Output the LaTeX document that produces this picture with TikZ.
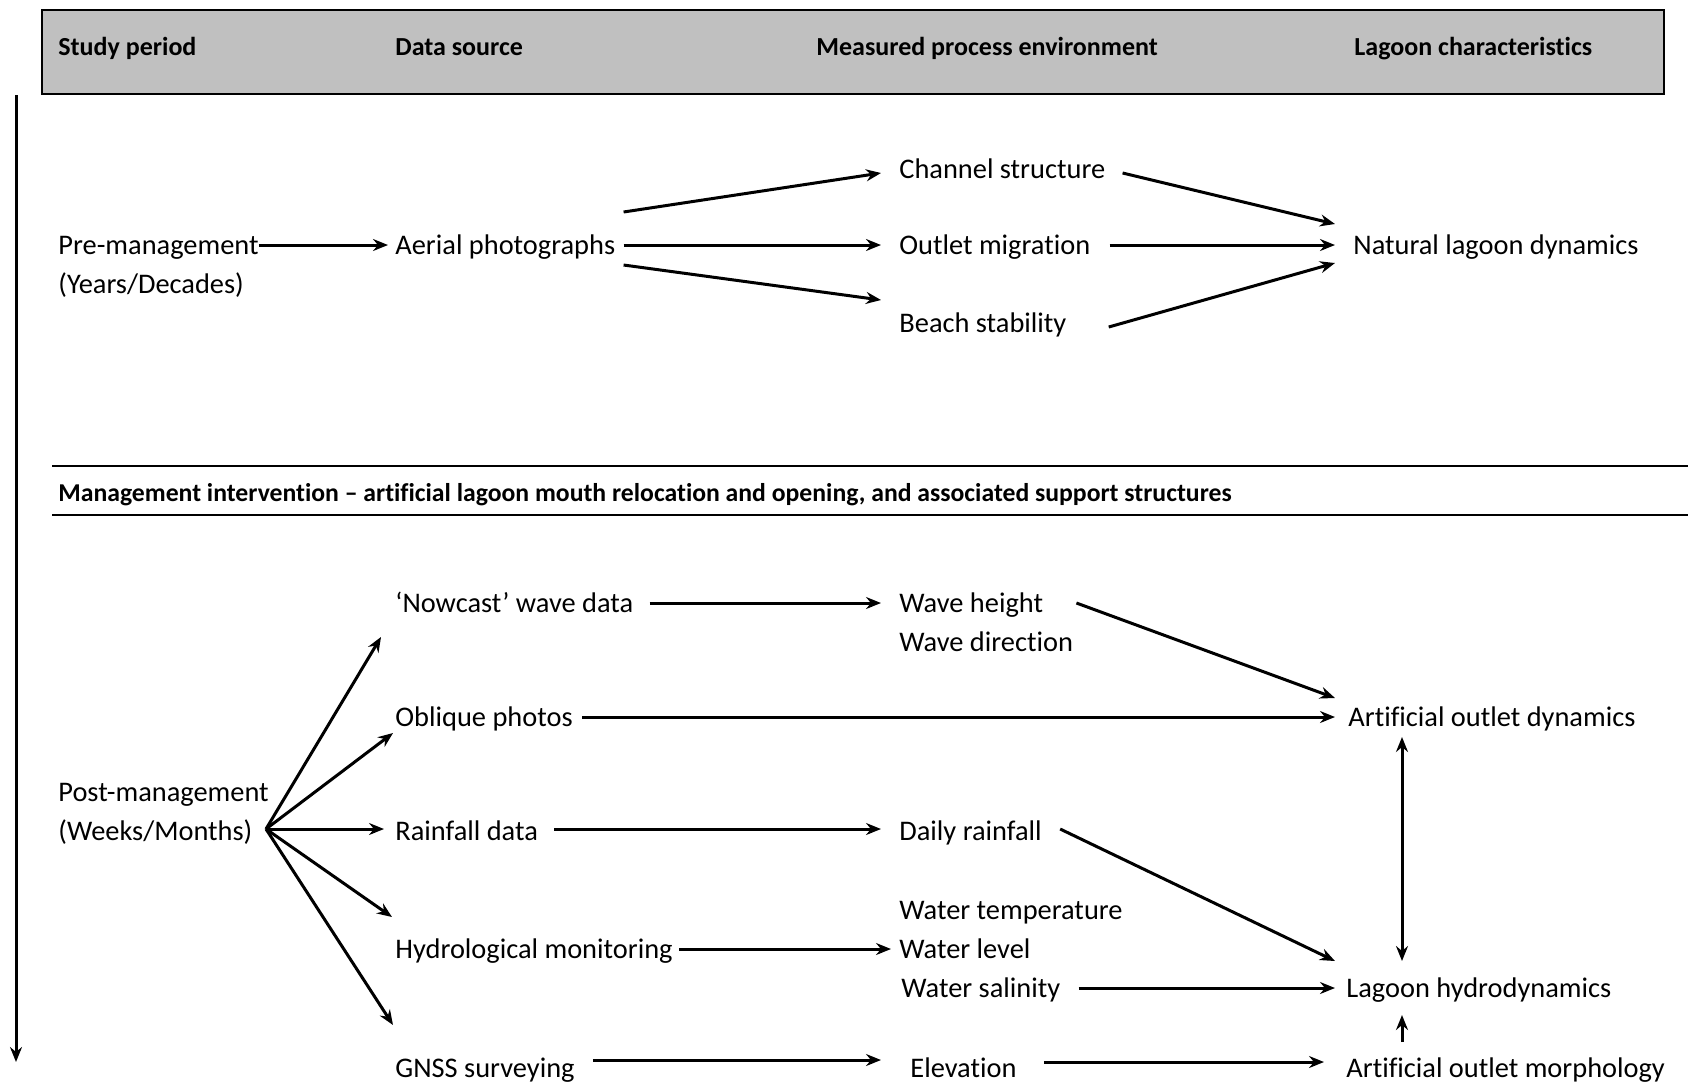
\documentclass[tikz,border=0pt]{standalone}
\usepackage{fontspec}
\setmainfont[RawFeature=-liga]{Carlito}
\usetikzlibrary{arrows.meta,calc}
\definecolor{hdrgray}{RGB}{192,192,192}
\begin{document}
\begin{tikzpicture}[x=0.5pt,y=-0.5pt,
  lbl/.style={anchor=west,inner sep=0pt,text height=9.3pt,text depth=0pt,font=\fontsize{14.2}{16}\selectfont},
  hd/.style={anchor=west,inner sep=0pt,text height=9.3pt,text depth=0pt,font=\fontsize{13}{15}\selectfont\bfseries},
  arr/.style={line width=1.5pt,-{Stealth[length=7.5pt,width=6pt,inset=2.5pt]}},
  darr/.style={line width=1.5pt,{Stealth[length=7.5pt,width=6pt,inset=2.5pt]}-{Stealth[length=7.5pt,width=6pt,inset=2.5pt]}},
  rule/.style={line width=1pt}]
\useasboundingbox (0,0) rectangle (1688,1084);

% header
\node[draw,line width=1pt,fill=hdrgray,minimum width=811pt,minimum height=42pt,inner sep=0pt,anchor=north west] (hdr) at (41,9) {};
\node[hd] (h1) at (58,46) {Study period};
\node[hd] (h2) at (395,46) {Data source};
\node[hd] (h3) at (816,46) {Measured process environment};
\node[hd] (h4) at (1354,46) {Lagoon characteristics};

% time arrow
\coordinate (ttop) at (16,95);
\coordinate (tbot) at (16,1062);
\draw[arr] (ttop) -- (tbot);

% pre-management section
\node[lbl] (pre) at (58,245) {Pre-management};
\node[lbl] (pre2) at (58,284) {(Years/Decades)};
\node[lbl] (aer) at (395,245) {Aerial photographs};
\node[lbl] (chan) at (899,169) {Channel structure};
\node[lbl] (outl) at (899,245) {Outlet migration};
\node[lbl] (beach) at (899,323) {Beach stability};
\node[lbl] (nat) at (1353,245) {Natural lagoon dynamics};

\draw[arr] (pre.east) -- ($(aer.west)+(-7,0)$);
\draw[arr] ($(aer.east)+(8,-33)$) -- ($(chan.west)+(-18,4)$);
\draw[arr] ($(aer.east)+(8,0)$) -- ($(outl.west)+(-18,0)$);
\draw[arr] ($(aer.east)+(8,20)$) -- ($(beach.west)+(-18,-23)$);
\draw[arr] ($(chan.east)+(17,4)$) -- ($(nat.west)+(-18,-21)$);
\draw[arr] ($(outl.east)+(19,0)$) -- ($(nat.west)+(-18,0)$);
\draw[arr] ($(beach.east)+(42,4)$) -- ($(nat.west)+(-18,18)$);

% management intervention band
\coordinate (l1a) at (52,466); \coordinate (l1b) at (1688,466);
\coordinate (l2a) at (52,515); \coordinate (l2b) at (1688,515);
\draw[rule] (l1a) -- (l1b);
\draw[rule] (l2a) -- (l2b);
\node[hd,font=\fontsize{12.85}{15}\selectfont\bfseries] (mgmt) at (58,492) {Management intervention -- artificial lagoon mouth relocation and opening, and associated support structures};

% post-management section
\node[lbl] (post) at (58,792) {Post-management};
\node[lbl] (post2) at (58,831) {(Weeks/Months)};
\coordinate (fan) at (266,829);

\node[lbl] (now) at (395,603) {‘Nowcast’ wave data};
\node[lbl] (obl) at (395,717) {Oblique photos};
\node[lbl] (rain) at (395,831) {Rainfall data};
\node[lbl] (hyd) at (395,949) {Hydrological monitoring};
\node[lbl] (gnss) at (395,1068) {GNSS surveying};

\draw[arr] (fan) -- ($(now.west)+(-14,34)$);
\draw[arr] (fan) -- ($(obl.west)+(-2,16)$);
\draw[arr] (fan) -- ($(rain.west)+(-11,-2)$);
\draw[arr] (fan) -- ($(hyd.west)+(-3,-32)$);
\draw[arr] (fan) -- ($(gnss.west)+(-2,-43)$);

\node[lbl] (wh) at (899,603) {Wave height};
\node[lbl] (wd) at (899,642) {Wave direction};
\node[lbl] (dr) at (899,831) {Daily rainfall};
\node[lbl] (wt) at (899,910) {Water temperature};
\node[lbl] (wl) at (899,949) {Water level};
\node[lbl] (ws) at (901,988) {Water salinity};
\node[lbl] (elev) at (910,1068) {Elevation};

\node[lbl] (aod) at (1348,717) {Artificial outlet dynamics};
\node[lbl] (lh) at (1346,988) {Lagoon hydrodynamics};
\node[lbl] (aom) at (1346,1068) {Artificial outlet morphology};

\draw[arr] ($(now.east)+(16,0)$) -- ($(wh.west)+(-18,0)$);
\draw[arr] ($(obl.east)+(9,0)$) -- ($(aod.west)+(-13,0)$);
\draw[arr] ($(rain.east)+(16,-2)$) -- ($(dr.west)+(-18,-2)$);
\draw[arr] ($(hyd.east)+(6,0)$) -- ($(wl.west)+(-8,0)$);
\draw[arr] ($(gnss.east)+(18,-8)$) -- ($(elev.west)+(-29,-8)$);

\draw[arr] ($(wh.east)+(33,0)$) -- ($(aod.west)+(-13,-19)$);
\draw[arr] ($(dr.east)+(18,-2)$) -- ($(lh.west)+(-11,-27)$);
\draw[arr] ($(ws.east)+(18,0)$) -- ($(lh.west)+(-11,0)$);
\draw[arr] ($(elev.east)+(27,-6)$) -- ($(aom.west)+(-22,-6)$);
\draw[darr] ($(aod.west)+(54,20)$) -- ($(lh.west)+(56,-27)$);
\draw[arr] ($(aom.west)+(56,-26)$) -- ($(lh.west)+(56,27)$);
\end{tikzpicture}
\end{document}
